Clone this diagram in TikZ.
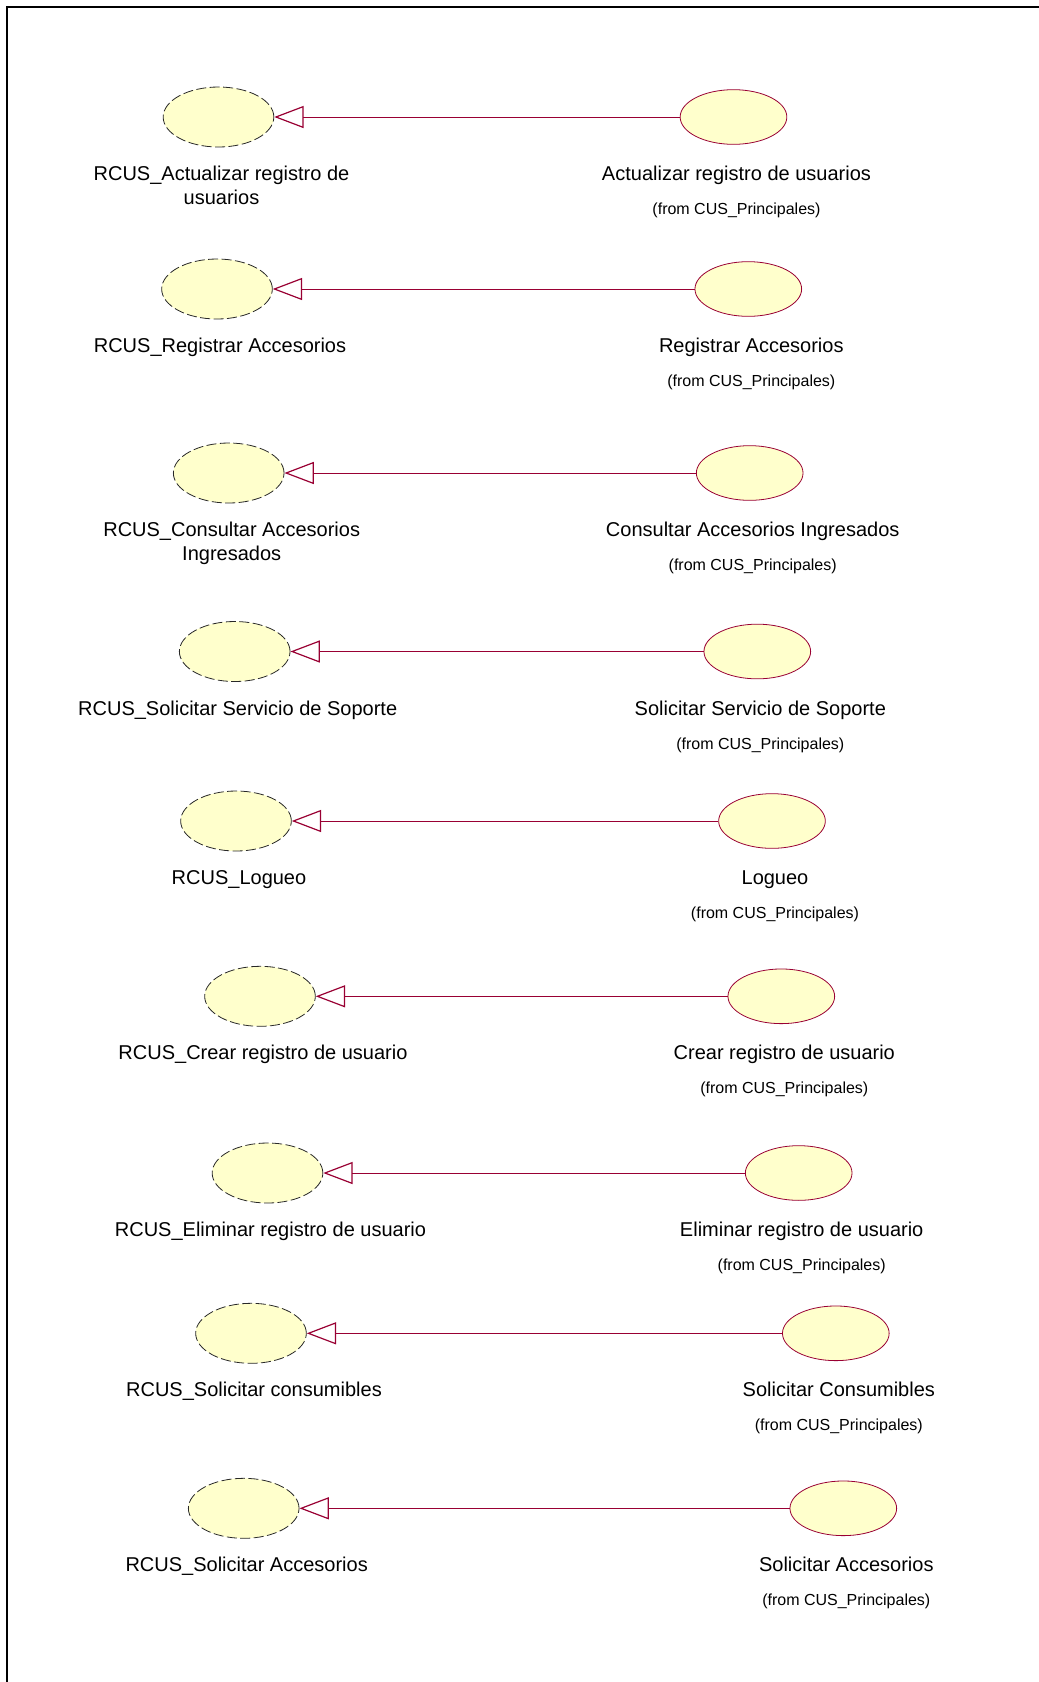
\documentclass[tikz,border=0pt]{standalone}
\usepackage{fontspec}
\setmainfont{Liberation Sans}
\usetikzlibrary{shapes.geometric,arrows.meta}
\definecolor{ucfill}{RGB}{255,255,204}
\definecolor{rose}{RGB}{153,0,51}
\definecolor{dashgray}{RGB}{40,40,40}
% centred lines whose baseline is that of the first line
\newcommand\lbllines[1]{\begin{tabular}[t]{@{}c@{}}#1\end{tabular}}
\begin{document}
\begin{tikzpicture}[x=0.75pt,y=-0.75pt,
  realuc/.style={ellipse, draw=dashgray, line width=0.6pt,
    dash pattern=on 7.5pt off 2.6pt, fill=ucfill,
    minimum width=83pt, minimum height=45pt, inner sep=0pt},
  baseuc/.style={ellipse, draw=rose, line width=0.6pt, fill=ucfill,
    minimum width=80pt, minimum height=41pt, inner sep=0pt},
  mainlbl/.style={anchor=base, inner sep=0pt,
    font=\fontsize{15}{18}\selectfont},
  fromlbl/.style={anchor=base, inner sep=0pt,
    font=\fontsize{12}{14}\selectfont},
  realizes/.style={draw=rose, line width=0.75pt,
    -{Triangle[open, length=22pt, width=16.5pt, line width=0.9pt, fill=white]}}]
\useasboundingbox (0,0) rectangle (1039,1682);
% frame: top and left edges only
\draw[line width=1.5pt] (7,1682) -- (7,6.5) -- (1039,6.5);
% rows: y / left x / right x / left label / right label
\foreach \y/\lx/\rx/\ltext/\rtext [count=\i] in {
  117/218.5/733.5/{RCUS\_Actualizar registro de\\usuarios}/{Actualizar registro de usuarios},
  289/217/748.3/{RCUS\_Registrar Accesorios}/{Registrar Accesorios},
  473/228.7/749.7/{RCUS\_Consultar Accesorios\\Ingresados}/{Consultar Accesorios Ingresados},
  651.5/234.7/757.3/{RCUS\_Solicitar Servicio de Soporte}/{Solicitar Servicio de Soporte},
  821/236/772/{RCUS\_Logueo}/{Logueo},
  996.3/260/781.3/{RCUS\_Crear registro de usuario}/{Crear registro de usuario},
  1173/267.5/798.7/{RCUS\_Eliminar registro de usuario}/{Eliminar registro de usuario},
  1333.3/251/835.8/{RCUS\_Solicitar consumibles}/{Solicitar Consumibles},
  1508.3/243.7/843.3/{RCUS\_Solicitar Accesorios}/{Solicitar Accesorios}} {
  \node[realuc] (L\i) at (\lx,\y) {};
  \node[baseuc] (R\i) at (\rx,\y) {};
  \node[mainlbl] (Lt\i) at (\lx+3,\y+63.5) {\lbllines{\ltext}};
  \node[mainlbl] (Rt\i) at (\rx+3,\y+63.5) {\rtext};
  \node[fromlbl] (Rf\i) at (\rx+3,\y+97.5) {(from CUS\_Principales)};
  \draw[realizes] (R\i.west) -- (L\i.east);
}
\end{tikzpicture}
\end{document}
